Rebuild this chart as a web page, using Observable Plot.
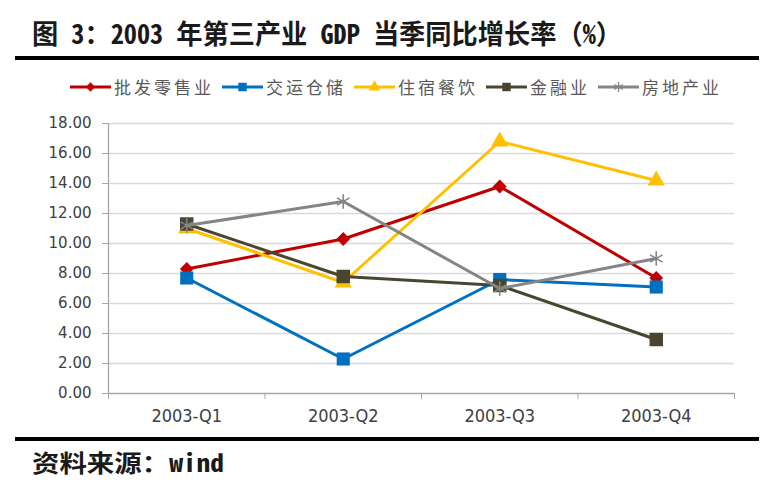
<!DOCTYPE html>
<html><head><meta charset="utf-8">
<script src="https://cdn.jsdelivr.net/npm/d3@7"></script>
<script src="https://cdn.jsdelivr.net/npm/@observablehq/plot@0.6"></script>
<style>
body{margin:0;background:#fff;}
#root{position:relative;width:775px;height:488px;overflow:hidden;background:#fff;}
.cjk{font-family:"Noto Sans Mono CJK SC","Noto Sans CJK SC",sans-serif;}
#title{position:absolute;left:32px;top:18px;font-weight:700;font-size:27px;line-height:30px;color:#1a1a1a;white-space:pre;transform-origin:0 0;display:inline-block;}
#source{position:absolute;left:32px;top:449px;font-weight:700;font-size:24px;line-height:26px;color:#1a1a1a;white-space:pre;transform-origin:0 0;display:inline-block;}
.rule{position:absolute;left:15px;width:744px;background:#000;}
#legend{position:absolute;left:70px;top:77px;height:20px;display:flex;align-items:center;}
#legend .item{display:flex;align-items:center;margin-right:8px;}
#legend svg{display:block;margin-right:3px;}
#legend span{font-family:"Noto Sans CJK SC",sans-serif;font-size:17px;letter-spacing:3px;color:#595959;line-height:20px;}
#plot{position:absolute;left:0;top:105px;}
#plot svg text{fill:#404040;}
</style></head>
<body><div id="root">
<div id="title" class="cjk">图 3：2003 年第三产业 GDP 当季同比增长率（%）</div>
<div class="rule" style="top:56px;height:4px;"></div>
<div id="legend"></div>
<div id="plot"></div>
<div class="rule" style="top:437px;height:4px;"></div>
<div id="source" class="cjk">资料来源：wind</div>
</div>
<script>
const categories = ["2003-Q1", "2003-Q2", "2003-Q3", "2003-Q4"];
const seriesNames = ["批发零售业", "交运仓储", "住宿餐饮", "金融业", "房地产业"];
const retail     = [8.3, 10.3, 13.8, 7.7];
const transport  = [7.7, 2.3, 7.6, 7.1];
const hotel      = [11.0, 7.4, 16.8, 14.2];
const finance    = [11.3, 7.8, 7.2, 3.6];
const realEstate = [11.2, 12.8, 7.0, 9.0];
const yTicks = [0, 2, 4, 6, 8, 10, 12, 14, 16, 18];

const seriesValues = [retail, transport, hotel, finance, realEstate];
const colors = ["#C00000", "#0070C0", "#FFC000", "#4A4530", "#858585"];
const symbols = ["diamond2", "square", "triangle", "square", "asterisk"];
const symbolR = [6.2, 7.4, 6.4, 7.6, 6.8];

const rows = seriesNames.flatMap((s, si) =>
  categories.map((c, i) => ({series: s, idx: i, cat: c, value: seriesValues[si][i]})));

// legend
const legend = d3.select("#legend");
const d3sym = {diamond2: d3.symbolDiamond2, square: d3.symbolSquare, triangle: d3.symbolTriangle, asterisk: d3.symbolAsterisk};
const legendSize = [55, 72, 60, 72, 70];
seriesNames.forEach((s, si) => {
  const it = legend.append("div").attr("class", "item");
  const svg = it.append("svg").attr("width", 41).attr("height", 16);
  svg.append("line").attr("x1", 0).attr("x2", 41).attr("y1", 8).attr("y2", 8)
    .attr("stroke", colors[si]).attr("stroke-width", 3);
  const sym = symbols[si] === "asterisk";
  svg.append("path").attr("transform", "translate(20.5,8)")
    .attr("d", d3.symbol(d3sym[symbols[si]], legendSize[si])())
    .attr("fill", sym ? "none" : colors[si])
    .attr("stroke", colors[si]).attr("stroke-width", sym ? 1.3 : 0);
  it.append("span").text(s);
});

const W = 775, ML = 108, MR = 41;
const boundaries = d3.range(categories.length + 1).map(i => i - 0.5);

const marks = [
  Plot.ruleY(yTicks.filter(v => v > 0), {stroke: "#D9D9D9", strokeWidth: 1.3}),
  Plot.ruleY([0], {stroke: "#A6A6A6", strokeWidth: 1.3}),
  Plot.ruleX([boundaries[0]], {stroke: "#A6A6A6", strokeWidth: 1.3}),
];
seriesNames.forEach((s, si) => {
  const data = rows.filter(r => r.series === s);
  marks.push(Plot.line(data, {x: "idx", y: "value", stroke: colors[si], strokeWidth: 3, strokeLinejoin: "round"}));
  if (symbols[si] === "asterisk") {
    marks.push(Plot.dot(data, {x: "idx", y: "value", symbol: "asterisk", r: symbolR[si], stroke: colors[si], strokeWidth: 1.6, fill: "none"}));
  } else {
    marks.push(Plot.dot(data, {x: "idx", y: "value", symbol: symbols[si], r: symbolR[si], fill: colors[si], stroke: "none"}));
  }
});
marks.push(Plot.text(categories, {x: (d, i) => i, y: () => 0, dy: 23, text: d => d,
  fontFamily: "DejaVu Sans Condensed", fontSize: 18, fill: "#404040"}));

const chart = Plot.plot({
  width: W, height: 328,
  marginLeft: ML, marginRight: MR, marginTop: 18, marginBottom: 40,
  style: {color: "#A6A6A6", background: "transparent", fontFamily: "DejaVu Sans", fontSize: "15px", overflow: "visible"},
  x: {type: "linear", domain: [boundaries[0], boundaries[boundaries.length - 1]], ticks: boundaries, tickFormat: () => "", tickSize: 6, label: null},
  y: {domain: [0, 18], ticks: yTicks, tickFormat: d3.format(".2f"), tickSize: 6, tickPadding: 11, label: null},
  marks
});
document.getElementById("plot").appendChild(chart);

function fitWidth(id, target) {
  const el = document.getElementById(id);
  el.style.transform = "none";
  const w = el.getBoundingClientRect().width;
  el.style.transform = `scaleX(${target / w})`;
}
function fitAll() { fitWidth("title", 590); fitWidth("source", 192); }
fitAll();
if (document.fonts && document.fonts.ready) document.fonts.ready.then(fitAll);
</script>
</body></html>
